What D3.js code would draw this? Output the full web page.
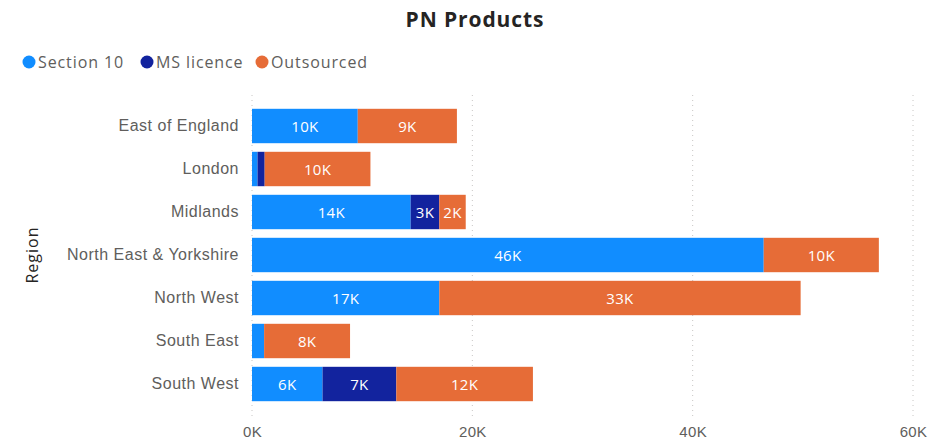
<!DOCTYPE html>
<html><head><meta charset="utf-8">
<script src="https://cdn.jsdelivr.net/npm/d3@7"></script>
<style>body{margin:0;background:#fff}svg{display:block;font-family:"Open Sans","Noto Sans",sans-serif}</style>
</head><body><svg id="c" width="943" height="445"></svg>
<script>
const regions = ["East of England","London","Midlands","North East & Yorkshire","North West","South East","South West"];
const seriesNames = ["Section 10","MS licence","Outsourced"];
const section10 = [9600, 500, 14400, 46450, 17000, 1100, 6400];
const msLicence = [0, 650, 2600, 0, 0, 0, 6700];
const outsourced = [9000, 9600, 2400, 10450, 32800, 7800, 12400];
const xTicks = [0, 20000, 40000, 60000];
const colors = ["#118DFF","#12239E","#E66C37"];

const svg = d3.select("#c");
const rows = regions.map((r,i)=>({region:r,"Section 10":section10[i],"MS licence":msLicence[i],"Outsourced":outsourced[i]}));
const stacked = d3.stack().keys(seriesNames)(rows);

const x = d3.scaleLinear().domain([0,60000]).range([252,913]);
const y = d3.scaleBand().domain(regions).range([104.5,405.5]).paddingInner(0.2).paddingOuter(0.1);

// title
svg.append("text").attr("x",475).attr("y",27).attr("text-anchor","middle")
  .attr("font-size",21).attr("font-weight","bold").attr("letter-spacing",0.9).attr("fill","#252423").text("PN Products");

// legend
const lx = [29,147,262];
seriesNames.forEach((s,i)=>{
  svg.append("circle").attr("cx",lx[i]).attr("cy",62).attr("r",6.5).attr("fill",colors[i]);
  svg.append("text").attr("x",lx[i]+9).attr("y",67.5).attr("font-size",16).attr("letter-spacing",0.9).attr("fill","#605E5C").text(s);
});

// grid
svg.append("g").selectAll("line").data(xTicks).join("line")
  .attr("x1",d=>x(d)).attr("x2",d=>x(d)).attr("y1",95).attr("y2",416)
  .attr("stroke","#C8C6C4").attr("stroke-width",1).attr("stroke-dasharray","1,4");

// x axis
const xa = svg.append("g").attr("transform","translate(0,416)")
  .call(d3.axisBottom(x).tickValues(xTicks).tickSize(0).tickPadding(10).tickFormat(d=>(d/1000)+"K"));
xa.select(".domain").remove();
xa.selectAll("text").attr("font-size",15).attr("letter-spacing",0.3).attr("fill","#605E5C").attr("font-family","inherit");

// y axis
const ya = svg.append("g").attr("transform","translate(239,0)")
  .call(d3.axisLeft(y).tickSize(0).tickPadding(0));
ya.select(".domain").remove();
ya.selectAll("text").attr("font-size",16).attr("letter-spacing",0.5).attr("fill","#605E5C").attr("font-family","inherit");

svg.append("text").attr("transform","translate(38,255) rotate(-90)").attr("text-anchor","middle")
  .attr("font-size",16).attr("letter-spacing",1).attr("fill","#252423").text("Region");

// bars
const g = svg.append("g");
stacked.forEach((layer,li)=>{
  g.append("g").selectAll("rect").data(layer).join("rect")
    .attr("x",d=>x(d[0])).attr("width",d=>x(d[1])-x(d[0]))
    .attr("y",d=>y(d.data.region)).attr("height",y.bandwidth())
    .attr("fill",colors[li]);
  g.append("g").selectAll("text").data(layer.filter(d=>x(d[1])-x(d[0])>20)).join("text")
    .attr("x",d=>(x(d[0])+x(d[1]))/2).attr("y",d=>y(d.data.region)+y.bandwidth()/2+5.5)
    .attr("text-anchor","middle").attr("font-size",15).attr("letter-spacing",0.3).attr("fill","#fff")
    .text(d=>Math.round((d[1]-d[0])/1000)+"K");
});
</script></body></html>
